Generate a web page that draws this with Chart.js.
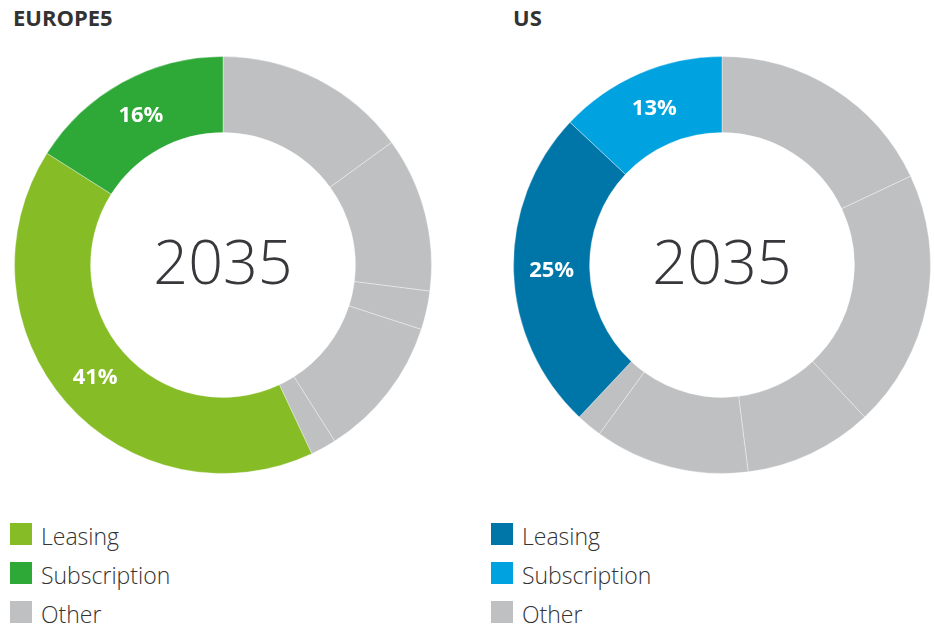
<!DOCTYPE html>
<html>
<head>
<meta charset="utf-8">
<script src="https://cdn.jsdelivr.net/npm/chart.js@4"></script>
<style>
  body { margin: 0; background: #fff; font-family: "Open Sans", sans-serif; }
  .page { position: relative; width: 935px; height: 629px; overflow: hidden; }
  .title { position: absolute; top: 2px; font-size: 22px; font-weight: 700; color: #333; }
  .box { position: absolute; top: 56px; width: 418px; height: 418px; }
  .legend { position: absolute; top: 523px; }
  .row { display: flex; align-items: center; height: 39px; }
  .sw { width: 22px; height: 22px; margin-right: 9px; margin-top: -17px; }
  .lbl { font-size: 23px; font-weight: 300; color: #333; margin-top: -14px; }
</style>
</head>
<body>
<div class="page">
  <div class="title" style="left:13px">EUROPE5</div>
  <div class="title" style="left:513px">US</div>
  <div class="box" style="left:14px"><canvas id="europeChart"></canvas></div>
  <div class="box" style="left:513px"><canvas id="usChart"></canvas></div>
  <div class="legend" id="europeLegend" style="left:10px"></div>
  <div class="legend" id="usLegend" style="left:491px"></div>
</div>
<script>
const centerYear = "2035";

// segments clockwise from 12 o'clock
const europeKinds = ["Other", "Other", "Other", "Other", "Other", "Leasing", "Subscription"];
const europeValues = [15, 12, 3, 11, 2, 41, 16];

const usKinds = ["Other", "Other", "Other", "Other", "Other", "Leasing", "Subscription"];
const usValues = [18, 20, 10, 12, 2, 25, 13];

const legendLabels = ["Leasing", "Subscription", "Other"];

const europeColors = { Leasing: "#86bc25", Subscription: "#2ea836", Other: "#bfc0c2" };
const usColors = { Leasing: "#0076a8", Subscription: "#00a3e0", Other: "#bfc0c2" };

const pctLabels = {
  id: "pctLabels",
  afterDatasetsDraw(chart) {
    const ctx = chart.ctx;
    const meta = chart.getDatasetMeta(0);
    const kinds = chart.data.labels;
    const values = chart.data.datasets[0].data;
    ctx.save();
    ctx.fillStyle = "#fff";
    ctx.font = "700 22px 'Open Sans'";
    ctx.textAlign = "center";
    ctx.textBaseline = "middle";
    meta.data.forEach((arc, i) => {
      if (kinds[i] === "Other") return;
      const p = arc.tooltipPosition();
      ctx.fillText(values[i] + "%", p.x, p.y);
    });
    // year in the hole
    const first = meta.data[0];
    ctx.fillStyle = "#38383c";
    ctx.font = "300 61px 'Open Sans'";
    ctx.fillText(centerYear, first.x, first.y + 2);
    ctx.restore();
  },
};

function makeDoughnut(id, kinds, values, colors) {
  return new Chart(document.getElementById(id), {
    type: "doughnut",
    data: {
      labels: kinds,
      datasets: [
        {
          data: values,
          backgroundColor: kinds.map((k) => colors[k]),
          borderColor: "rgba(255,255,255,0.35)",
          borderWidth: 1,
        },
      ],
    },
    options: {
      responsive: true,
      maintainAspectRatio: true,
      animation: false,
      cutout: "63.5%",
      layout: { padding: 0 },
      plugins: {
        legend: { display: false },
        tooltip: { enabled: false },
      },
    },
    plugins: [pctLabels],
  });
}

function makeLegend(id, colors) {
  const el = document.getElementById(id);
  legendLabels.forEach((name) => {
    const row = document.createElement("div");
    row.className = "row";
    row.innerHTML = `<div class="sw" style="background:${colors[name]}"></div><div class="lbl">${name}</div>`;
    el.appendChild(row);
  });
}

makeDoughnut("europeChart", europeKinds, europeValues, europeColors);
makeDoughnut("usChart", usKinds, usValues, usColors);
makeLegend("europeLegend", europeColors);
makeLegend("usLegend", usColors);
</script>
</body>
</html>
